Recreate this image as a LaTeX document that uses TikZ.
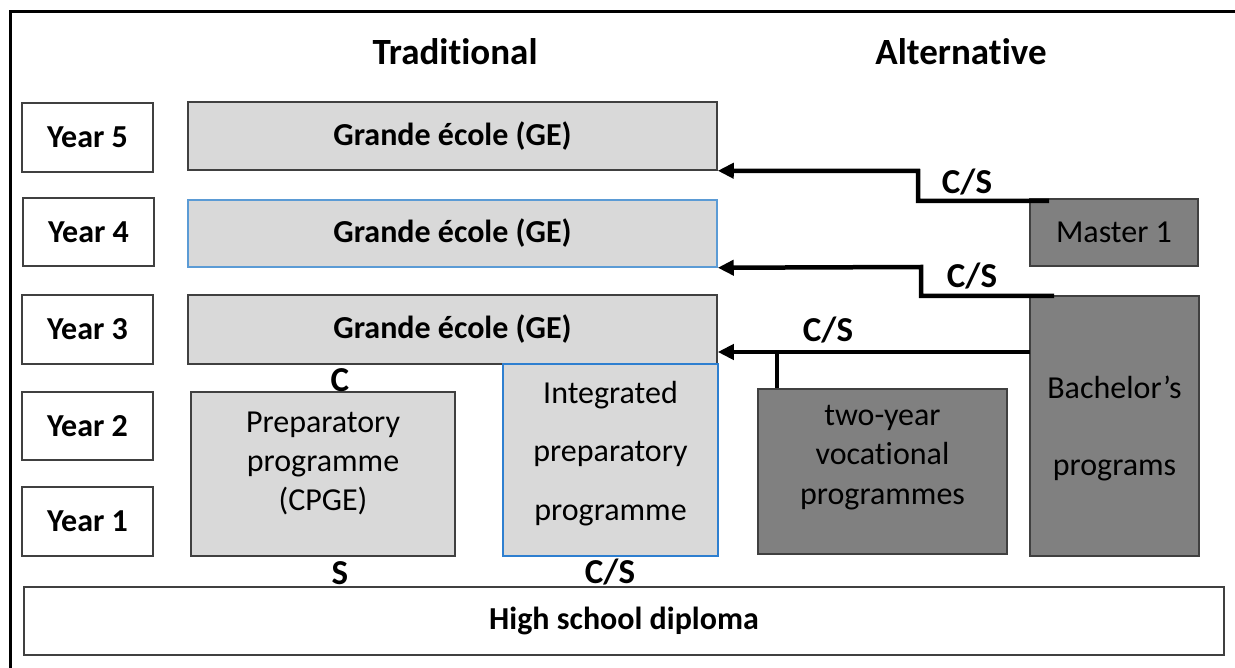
\documentclass[tikz,border=0pt]{standalone}
\usepackage{fontspec}
\setmainfont{Carlito}[Ligatures=NoCommon]
\usetikzlibrary{arrows.meta}
\definecolor{lightbox}{HTML}{D9D9D9}
\definecolor{darkbox}{HTML}{808080}
\definecolor{edge}{HTML}{404040}
\definecolor{blueedge}{HTML}{5B9BD5}
\definecolor{blueedgeb}{HTML}{2E7FD0}
\tikzset{
  yearbox/.style={draw=edge, line width=1.5pt, fill=white, inner sep=0pt,
    font=\fontsize{32}{38}\selectfont\bfseries},
  gebox/.style={draw=edge, line width=1.5pt, fill=lightbox, inner sep=0pt,
    font=\fontsize{32}{38}\selectfont\bfseries},
  lbox/.style={draw=edge, line width=1.5pt, fill=lightbox, inner sep=0pt},
  dbox/.style={draw=edge, line width=1.5pt, fill=darkbox, inner sep=0pt},
  boxtext/.style={align=center, inner sep=0pt},
  title/.style={font=\fontsize{37}{44}\selectfont\bfseries},
  tag/.style={font=\fontsize{35}{41}\selectfont\bfseries, inner sep=0pt},
  arr/.style={line width=4.5pt, -{Triangle[length=16pt,width=15pt]}},
  plain/.style={line width=4.5pt}
}
\begin{document}
\begin{tikzpicture}[x=1pt,y=-1pt]
\useasboundingbox (0,0) rectangle (1235,668);
% frame
\draw[line width=3pt] (10,680) -- (10,12) -- (1245,12);
% titles
\node[title] (trad) at (455,52) {Traditional};
\node[title] (alt) at (961,52) {Alternative};
% year boxes
\node[yearbox, minimum width=131pt, minimum height=69pt] (y5) at (87.5,137.5) {Year 5};
\node[yearbox, minimum width=131pt, minimum height=68pt] (y4) at (88.5,232) {Year 4};
\node[yearbox, minimum width=131pt, minimum height=69pt] (y3) at (87.5,329.5) {Year 3};
\node[yearbox, minimum width=131pt, minimum height=68pt] (y2) at (87.5,426) {Year 2};
\node[yearbox, minimum width=131pt, minimum height=69pt] (y1) at (87.5,521.5) {Year 1};
% grande ecole
\node[gebox, minimum width=529pt, minimum height=68pt] (ge5) at (452.5,136) {Grande école (GE)};
\node[gebox, draw=blueedge, minimum width=529pt, minimum height=67pt] (ge4) at (452.5,233.5) {Grande école (GE)};
\node[gebox, minimum width=529pt, minimum height=69pt] (ge3) at (452.5,329.5) {Grande école (GE)};
% lower boxes
\node[lbox, minimum width=264pt, minimum height=164pt] (cpge) at (323,474) {};
\node[boxtext, font=\fontsize{32}{39}\selectfont] (cpgetext) at (323,463) {Preparatory\\programme\\(CPGE)};
\node[lbox, draw=blueedgeb, minimum width=215pt, minimum height=192pt] (integ) at (610.5,460) {};
\node[boxtext, font=\fontsize{32}{58.5}\selectfont] (integtext) at (610.5,453.5) {Integrated\\preparatory\\programme};
\node[dbox, minimum width=249pt, minimum height=165pt] (voc) at (882.5,471.5) {};
\node[boxtext, font=\fontsize{32}{39.5}\selectfont] (voctext) at (882.5,457.5) {two-year\\vocational\\programmes};
\node[dbox, minimum width=169pt, minimum height=260pt] (bach) at (1114.5,426) {};
\node[boxtext, font=\fontsize{32}{77}\selectfont] (bachtext) at (1114.5,428.5) {Bachelor’s\\programs};
\node[dbox, minimum width=168pt, minimum height=67pt, font=\fontsize{32}{38}\selectfont] (master) at (1114,232.5) {Master 1};
\node[yearbox, minimum width=1200pt, minimum height=68pt] (hsd) at (624,621) {High school diploma};
% labels
\node[tag] (lc) at (340,380) {C};
\node[tag] (ls) at (340,573) {S};
\node[tag] (lcs0) at (610,572) {C/S};
\node[tag] (lcs1) at (967,182) {C/S};
\node[tag] (lcs2) at (972,276) {C/S};
\node[tag] (lcs3) at (828,330) {C/S};
% connectors
\coordinate (s1) at (1049,201);
\coordinate (s2) at (1054,296);
\coordinate (s3) at (1030,352);
\coordinate (j3) at (777,352);
\draw[arr] (s1) -- (918,201) -- (918,171) -- (ge5.south east);
\draw[arr] (s2) -- (921,296) -- (921,267) -- (ge4.south east);
\draw[arr] (s3) -- (ge3.east |- s3);
\draw[plain] (voc.north west -| j3) -- (j3);
\end{tikzpicture}
\end{document}
